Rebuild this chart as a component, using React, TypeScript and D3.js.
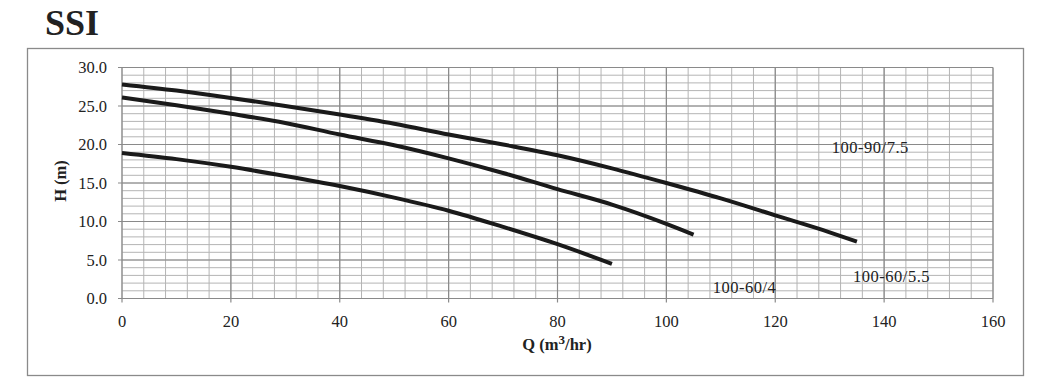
import React from "react";
import * as d3 from "d3";

const xTicks = [0, 20, 40, 60, 80, 100, 120, 140, 160];
const yTicks = [0, 5, 10, 15, 20, 25, 30];

const q790 = [0, 10, 20, 30, 40, 50, 60, 70, 80, 90, 100, 110, 120, 130, 135];
const h790 = [27.8, 27.0, 26.05, 25.0, 23.9, 22.7, 21.3, 20.0, 18.6, 16.9, 15.0, 13.0, 10.8, 8.6, 7.4];

const q655 = [0, 10, 20, 30, 40, 50, 60, 70, 80, 90, 100, 105];
const h655 = [26.1, 25.1, 24.0, 22.8, 21.3, 19.9, 18.2, 16.3, 14.2, 12.2, 9.7, 8.3];

const q604 = [0, 10, 20, 30, 40, 50, 60, 70, 80, 90];
const h604 = [18.9, 18.1, 17.1, 15.9, 14.6, 13.1, 11.4, 9.3, 7.05, 4.5];

const seriesNames = ["100-90/7.5", "100-60/5.5", "100-60/4"];

const W = 1046;
const H = 392;
const FONT = "'Liberation Serif', 'Times New Roman', serif";

export default function App() {
  const x = d3.scaleLinear().domain([0, 160]).range([122, 993]);
  const y = d3.scaleLinear().domain([0, 30]).range([298.5, 67.5]);

  const minorX = d3.range(0, 161, 4);
  const minorY = d3.range(0, 31, 1);

  const line = d3
    .line<[number, number]>()
    .x((d) => x(d[0]))
    .y((d) => y(d[1]))
    .curve(d3.curveMonotoneX);

  const series = [
    { q: q790, h: h790 },
    { q: q655, h: h655 },
    { q: q604, h: h604 },
  ];

  const labels = [
    { name: seriesNames[0], q: 130.4, h: 19.5 },
    { name: seriesNames[1], q: 134.3, h: 2.8 },
    { name: seriesNames[2], q: 108.5, h: 1.4 },
  ];

  return (
    <svg
      width={W}
      height={H}
      style={{ position: "absolute", left: 0, top: 0, background: "#fff" }}
      fontFamily={FONT}
    >
      <text x={45} y={35} fontSize={36} fontWeight="bold" fill="#222">
        SSI
      </text>
      <rect x={27.5} y={48.5} width={996} height={327} fill="none" stroke="#8a8a8a" strokeWidth={1.3} />

      {/* minor grid */}
      {minorX.map((v) => (
        <line key={"mx" + v} x1={x(v)} x2={x(v)} y1={y(0)} y2={y(30)} stroke="#b4b4b4" strokeWidth={1} />
      ))}
      {minorY.map((v) => (
        <line key={"my" + v} x1={x(0)} x2={x(160)} y1={y(v)} y2={y(v)} stroke="#b4b4b4" strokeWidth={1} />
      ))}
      {/* major grid */}
      {xTicks.map((v) => (
        <line key={"Mx" + v} x1={x(v)} x2={x(v)} y1={y(0) + 4} y2={y(30)} stroke="#8a8a8a" strokeWidth={1.2} />
      ))}
      {yTicks.map((v) => (
        <line key={"My" + v} x1={x(0) - 4} x2={x(160)} y1={y(v)} y2={y(v)} stroke="#8a8a8a" strokeWidth={1.2} />
      ))}

      {/* tick labels */}
      {xTicks.map((v) => (
        <text key={"tx" + v} x={x(v)} y={327} textAnchor="middle" fontSize={16.5} fill="#222">
          {v}
        </text>
      ))}
      {yTicks.map((v) => (
        <text key={"ty" + v} x={107} y={y(v) + 5.5} textAnchor="end" fontSize={16.5} fill="#222">
          {v.toFixed(1)}
        </text>
      ))}

      {/* axis titles */}
      <text x={557} y={350} textAnchor="middle" fontSize={16.5} fontWeight="bold" fill="#222">
        Q (m<tspan dy={-6} fontSize={13}>3</tspan>
        <tspan dy={6}>/hr)</tspan>
      </text>
      <text
        transform={`translate(66,181) rotate(-90)`}
        textAnchor="middle"
        fontSize={16.5}
        fontWeight="bold"
        fill="#222"
      >
        H (m)
      </text>

      {/* curves */}
      {series.map((s, i) => (
        <path
          key={"s" + i}
          d={line(s.q.map((qq, j) => [qq, s.h[j]] as [number, number])) || ""}
          fill="none"
          stroke="#1a1a1a"
          strokeWidth={4}
          strokeLinecap="butt"
        />
      ))}

      {labels.map((l) => (
        <text key={l.name} x={x(l.q)} y={y(l.h) + 5} fontSize={16.5} letterSpacing={0.5} fill="#222">
          {l.name}
        </text>
      ))}
    </svg>
  );
}
